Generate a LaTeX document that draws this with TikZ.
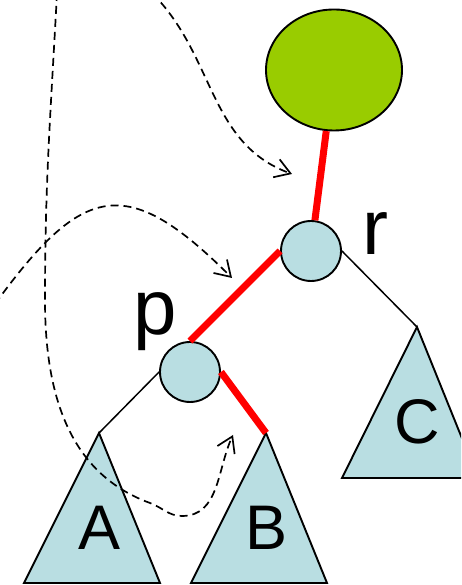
\documentclass[tikz,border=0pt]{standalone}
\usepackage{fontspec}
\setmainfont{Liberation Sans}
\usetikzlibrary{positioning,arrows.meta,shapes.geometric}
\definecolor{rootgreen}{RGB}{153,204,0}
\definecolor{nodeblue}{RGB}{185,222,226}
\begin{document}
\begin{tikzpicture}[
      x=1pt, y=1pt,
      vert/.style={draw, circle, line width=1.9pt, fill=nodeblue, minimum size=60pt, inner sep=0pt},
      rootnode/.style={draw, ellipse, line width=1.9pt, fill=rootgreen, minimum width=136pt, minimum height=121pt, inner sep=0pt},
      subtree/.style={draw, line width=1.9pt, fill=nodeblue},
      treelbl/.style={inner sep=0pt, font=\fontsize{63}{63}\selectfont},
      ptrlbl/.style={inner sep=0pt, font=\fontsize{78}{78}\selectfont},
      link/.style={line width=1.5pt},
      hot/.style={line width=7pt, red},
      move/.style={dash pattern=on 8pt off 5pt, line width=1.7pt, -{Straight Barb[length=15pt,width=19pt,line width=1.7pt]}},
    ]
    \clip (0,0) rectangle (461,585);

    \node[rootnode] (root) at (334,515) {};
    \node[vert] (r) at (311,334) {};
    \node[vert] (p) at (190,213) {};
    \node[ptrlbl] (rlbl) at (375,351) {r};
    \node[ptrlbl] (plbl) at (155,263) {p};

    \coordinate (atop) at (99,152);
    \coordinate (btop) at (266,152);
    \coordinate (ctop) at (417,258);
    \draw[subtree] (atop) -- ++(-75,-150) -- ++(136,0) -- cycle;
    \draw[subtree] (btop) -- ++(-75,-150) -- ++(136,0) -- cycle;
    \draw[subtree] (ctop) -- ++(-75,-151) -- ++(136,0) -- cycle;
    \node[treelbl] (A) at (100,57) {A};
    \node[treelbl] (B) at (267,57) {B};
    \node[treelbl] (C) at (417,163) {C};

    \draw[hot] (root) -- (r);
    \draw[hot] (r.west) -- (p.north);
    \draw[hot] (p.east) -- (btop);
    \draw[link] (p.west) -- (atop);
    \draw[link] (r.east) -- (ctop);

    \coordinate (s1) at (152,592);
    \coordinate (e1) at (292,411);
    \coordinate (s2) at (57,592);
    \coordinate (w1) at (45,285);
    \coordinate (w2) at (150,82);
    \coordinate (w3) at (182,69);
    \coordinate (e2) at (233,150);
    \coordinate (s3) at (-5,281);
    \coordinate (e3) at (232,307);
    \draw[move] (s1) to[out=-45,in=160] (e1);
    \draw[move] (s2) to[out=-93,in=90] (w1) to[out=-90,in=160] (w2) to[out=-20,in=180] (w3) to[out=0,in=245] (e2);
    \draw[move] (s3) to[out=54,in=135,looseness=1.6] (e3);
  \end{tikzpicture}
\end{document}
